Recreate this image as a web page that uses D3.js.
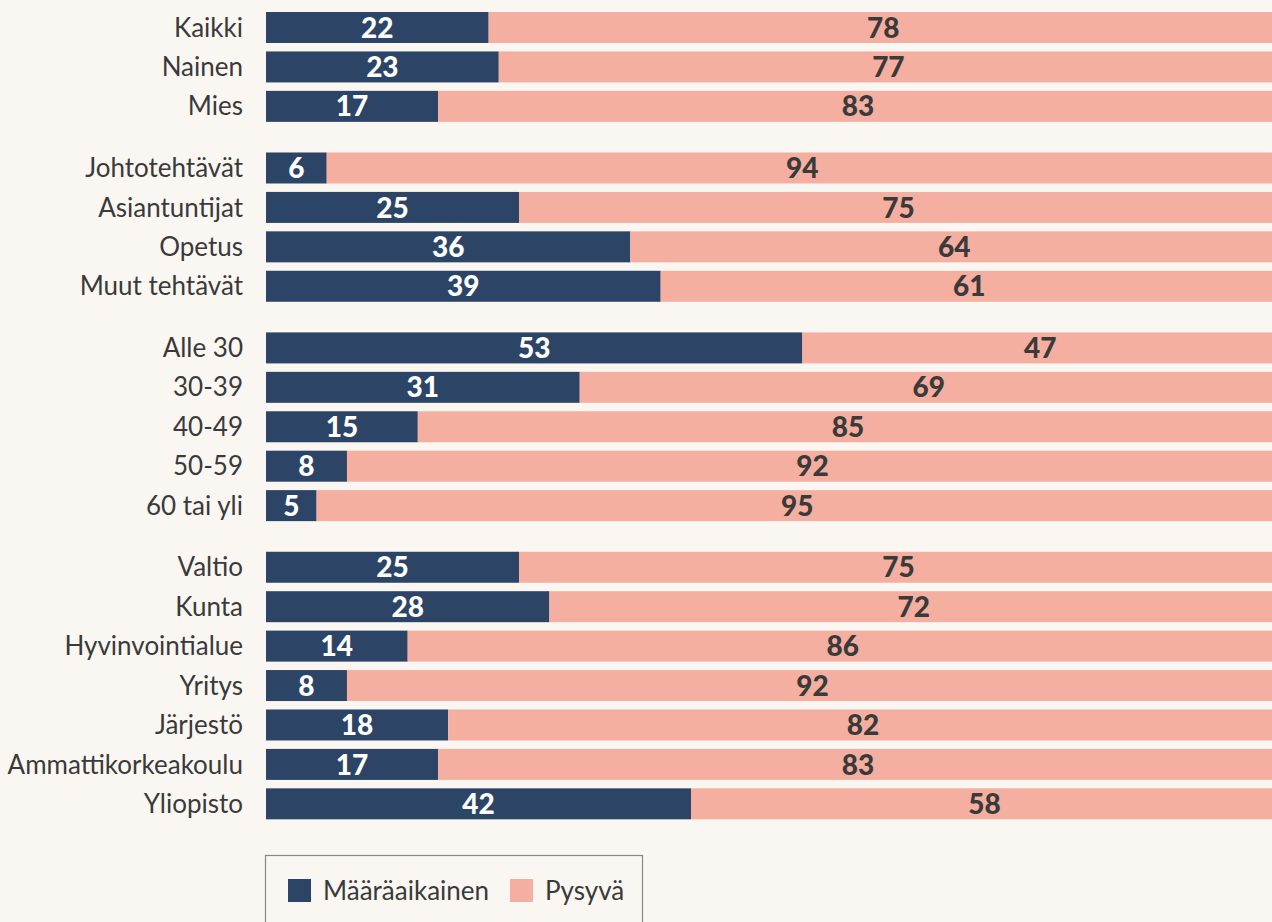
<!DOCTYPE html>
<html>
<head>
<meta charset="utf-8">
<script src="https://cdn.jsdelivr.net/npm/d3@7"></script>
<style>
  html, body { margin: 0; padding: 0; background: #faf7f2; }
  svg { display: block; }
</style>
</head>
<body>
<script>
// data
const categories = [
  "Kaikki", "Nainen", "Mies",
  "Johtotehtävät", "Asiantuntijat", "Opetus", "Muut tehtävät",
  "Alle 30", "30-39", "40-49", "50-59", "60 tai yli",
  "Valtio", "Kunta", "Hyvinvointialue", "Yritys", "Järjestö", "Ammattikorkeakoulu", "Yliopisto"
]
const groups = [0, 0, 0, 1, 1, 1, 1, 2, 2, 2, 2, 2, 3, 3, 3, 3, 3, 3, 3]
const maaraaikainen = [22, 23, 17, 6, 25, 36, 39, 53, 31, 15, 8, 5, 25, 28, 14, 8, 18, 17, 42]
const pysyva = [78, 77, 83, 94, 75, 64, 61, 47, 69, 85, 92, 95, 75, 72, 86, 92, 82, 83, 58]
const seriesNames = ["Määräaikainen", "Pysyvä"]

const width = 1272
const height = 922
const dark = "#2c4466"
const pink = "#f4afa0"
const textCol = "#3a3a3a"
const barH = 31
const gapRatio = 0.563 // extra space between groups, in rows

const rows = categories.map((c, i) => ({
  name: c,
  pos: i + groups[i] * gapRatio,
  a: maaraaikainen[i],
  b: pysyva[i]
}))

// the pink part runs a little past the right edge of the picture
const x = d3.scaleLinear().domain([0, 100]).range([266, 1278])
const y = d3.scaleLinear().domain([0, 1]).range([12, 12 + 39.43])
const color = d3.scaleOrdinal().domain(seriesNames).range([dark, pink])

const svg = d3.select("body").append("svg")
  .attr("width", width)
  .attr("height", height)

svg.append("rect")
  .attr("width", width).attr("height", height)
  .attr("fill", "#faf7f2")

const row = svg.selectAll("g.row")
  .data(rows)
  .join("g")
  .attr("class", "row")
  .attr("transform", d => `translate(0,${y(d.pos)})`)

// category labels
row.append("text")
  .attr("x", 243)
  .attr("y", barH / 2)
  .attr("dy", "0.35em")
  .attr("text-anchor", "end")
  .attr("font-family", "Lato, sans-serif")
  .attr("font-size", 26)
  .attr("fill", textCol)
  .text(d => d.name)

// Määräaikainen segment
row.append("rect")
  .attr("x", x(0))
  .attr("width", d => x(d.a) - x(0))
  .attr("height", barH)
  .attr("fill", color(seriesNames[0]))

// Pysyvä segment
row.append("rect")
  .attr("x", d => x(d.a))
  .attr("width", d => x(d.a + d.b) - x(d.a))
  .attr("height", barH)
  .attr("fill", color(seriesNames[1]))

const valueFont = "Lato, sans-serif"

row.append("text")
  .attr("x", d => (x(0) + x(d.a)) / 2)
  .attr("y", barH / 2)
  .attr("dy", "0.36em")
  .attr("text-anchor", "middle")
  .attr("font-family", valueFont)
  .attr("font-weight", 900)
  .attr("font-size", 28)
  .attr("fill", "#fff")
  .text(d => d.a)

row.append("text")
  .attr("x", d => (x(d.a) + Math.min(x(d.a + d.b), width + 6)) / 2)
  .attr("y", barH / 2)
  .attr("dy", "0.36em")
  .attr("text-anchor", "middle")
  .attr("font-family", valueFont)
  .attr("font-weight", 900)
  .attr("font-size", 28)
  .attr("fill", textCol)
  .text(d => d.b)

// legend
svg.append("rect")
  .attr("x", 265.5).attr("y", 855.5)
  .attr("width", 377).attr("height", 100)
  .attr("fill", "none")
  .attr("stroke", "#8a8783")
  .attr("stroke-width", 1.2)

const legendX = [288, 510]
const item = svg.append("g").selectAll("g")
  .data(seriesNames)
  .join("g")
  .attr("transform", (d, i) => `translate(${legendX[i]},879)`)

item.append("rect")
  .attr("width", 23).attr("height", 23)
  .attr("fill", d => color(d))

item.append("text")
  .attr("x", 35)
  .attr("y", 11.5)
  .attr("dy", "0.35em")
  .attr("font-family", "Lato, sans-serif")
  .attr("font-size", 26)
  .attr("fill", textCol)
  .text(d => d)
</script>
</body>
</html>
